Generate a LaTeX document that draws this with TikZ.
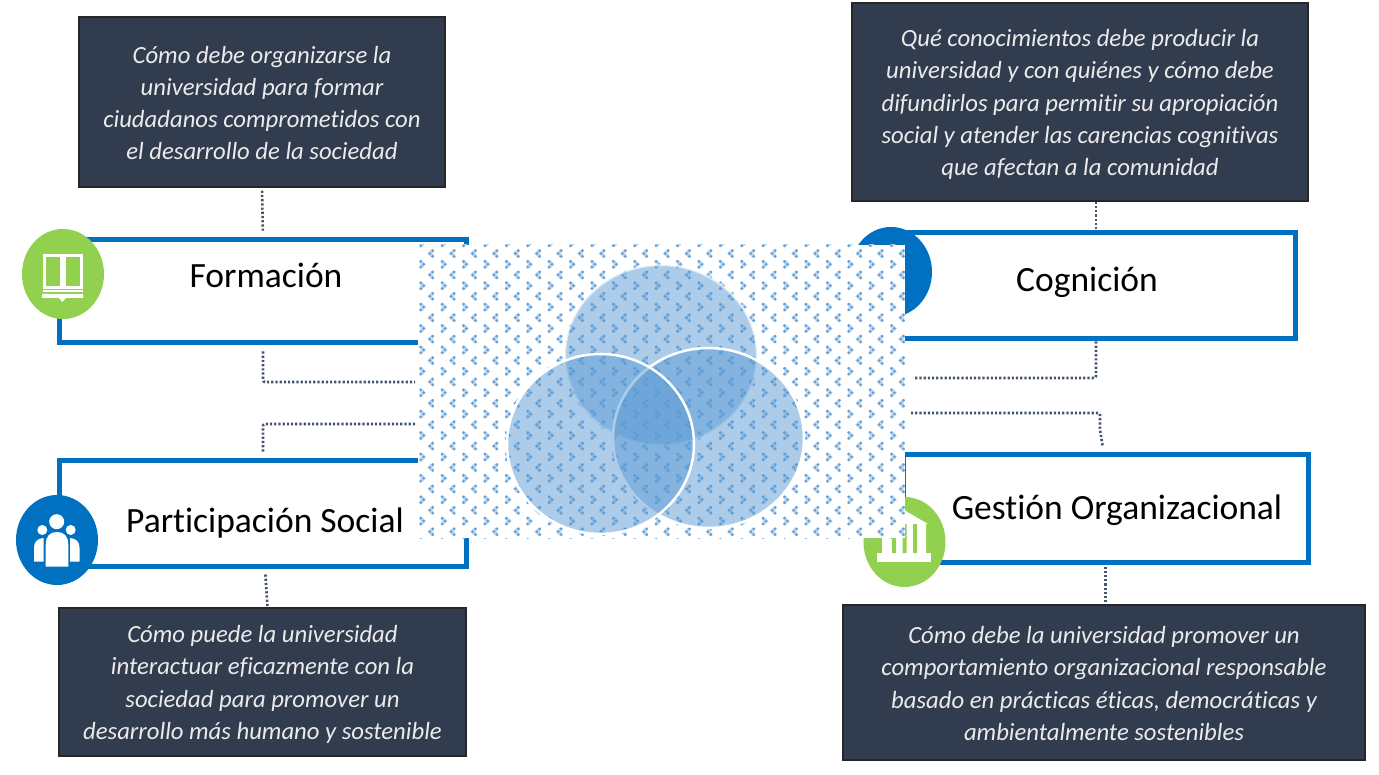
\documentclass[tikz,border=0pt]{standalone}
\usepackage{fontspec}
\setmainfont[Ligatures=NoCommon]{Carlito}
\definecolor{azul}{HTML}{0070C0}
\definecolor{verde}{HTML}{92D050}
\definecolor{pizarra}{HTML}{323C4F}
\definecolor{punteo}{HTML}{44546A}
\definecolor{circulo}{HTML}{5B9BD5}
\tikzset{
    caja/.style={draw=azul,line width=5pt,fill=white,inner sep=0pt},
    texto/.style={draw=black!85,line width=1.5pt,fill=pizarra,inner sep=0pt},
    letra/.style={text=white!92!black,inner sep=0pt,align=center,font=\fontsize{24.7}{32.3}\selectfont\itshape},
    titulo/.style={inner sep=0pt,font=\fontsize{35.5}{40}\selectfont},
    punteado/.style={draw=punteo,line width=2.6pt,dash pattern=on 2.2pt off 2pt,rounded corners=2pt},
    fondo/.style={fill=white,inner sep=0pt,minimum width=487pt,minimum height=293pt},
    punto/.style={fill=circulo!95!white},
    halo/.style={draw=circulo!40!white,line width=3.4pt,line cap=round},
    venn/.style={fill=circulo,fill opacity=.5,draw=white,line width=2.5pt}
}
\begin{document}
\begin{tikzpicture}[x=1pt,y=-1pt]
    \useasboundingbox (0,0) rectangle (1379,775);

    % cajas de las cuatro dimensiones
    \node [caja,minimum width=406.5pt,minimum height=103.5pt] (formacion) at (263,291.25) {};
    \node [caja,minimum width=406.5pt,minimum height=106pt] (participacion) at (263,513) {};
    \node [caja,minimum width=405pt,minimum height=106.5pt] (cognicion) at (1092.5,285.75) {};
    \node [caja,minimum width=405pt,minimum height=108pt] (gestion) at (1105.5,508) {};

    \node [titulo] (tFormacion) at (266,275) {Formación};
    \node [titulo] (tParticipacion) at (265,523.5) {Participación Social};
    \node [titulo] (tCognicion) at (1087,282) {Cognición};
    \node [titulo] (tGestion) at (1117,510.5) {Gestión Organizacional};

    % preguntas
    \node [texto,minimum width=366pt,minimum height=170pt] (pFormacion) at (262,102) {};
    \node [texto,minimum width=456pt,minimum height=198pt] (pCognicion) at (1080,102) {};
    \node [texto,minimum width=407pt,minimum height=148pt] (pParticipacion) at (262.5,682) {};
    \node [texto,minimum width=522pt,minimum height=155pt] (pGestion) at (1104,682.5) {};

    \node [letra] (lFormacion) at (262,103)
        {Cómo debe organizarse la\\universidad para formar\\ciudadanos comprometidos con\\el desarrollo de la sociedad};
    \node [letra] (lCognicion) at (1080,104.5)
        {Qué conocimientos debe producir la\\universidad y con quiénes y cómo debe\\difundirlos para permitir su apropiación\\social y atender las carencias cognitivas\\que afectan a la comunidad};
    \node [letra] (lParticipacion) at (262.5,684.5)
        {Cómo puede la universidad\\interactuar eficazmente con la\\sociedad para promover un\\desarrollo más humano y sostenible};
    \node [letra] (lGestion) at (1104,683.5)
        {Cómo debe la universidad promover un\\comportamiento organizacional responsable\\basado en prácticas éticas, democráticas y\\ambientalmente sostenibles};

    % conectores
    \coordinate (xCognicion) at (1096,0);
    \coordinate (eFormacion) at (415,382);
    \coordinate (eParticipacion) at (415,424);
    \coordinate (eCognicion) at (913,378);
    \coordinate (eGestion) at (911,413);
    \draw [punteado,shorten <=3pt,shorten >=5pt] (pFormacion.south) -- (formacion.north);
    \draw [punteado,shorten <=6pt] (formacion.south) |- (eFormacion);
    \draw [punteado,shorten >=5pt] (eParticipacion) -| (participacion.north);
    \draw [punteado,shorten <=6pt] ([xshift=2pt]participacion.south) -- ([xshift=5pt]pParticipacion.north);
    \draw [punteado] (pCognicion.south -| xCognicion) -- ([yshift=-4pt]cognicion.north -| xCognicion);
    \draw [punteado] (cognicion.south -| xCognicion) |- (eCognicion);
    \draw [punteado,shorten >=6pt] (eGestion) -- (1100,413) -- (1100,430) -- ([xshift=-2pt]gestion.north);
    \draw [punteado,shorten <=2pt] (gestion.south) -- (pGestion.north -| gestion.south);

    % iconos
    \fill [verde] (63,274) ellipse [x radius=41,y radius=45];
    \fill [azul] (57,540) ellipse [x radius=41,y radius=45];
    \fill [azul] (891,272) ellipse [x radius=41,y radius=45];
    \fill [verde] (904.5,542) ellipse [x radius=41,y radius=45];

    \begin{scope}[white]
        \draw [line width=3pt] (44,256) rectangle (61,288) (64,256) rectangle (81.5,288);
        \draw [line width=1.5pt] (43,291) -- (83,291);
        \fill (42,294) -- (83,294) -- (83,298) -- (66,298) -- (62.5,302) -- (59,298) -- (42,298) -- cycle;

        \fill (56.7,521.7) circle (7.5) (42.3,530) circle (5) (70.7,530) circle (5);
        \fill (45.7,566.7) -- (45.7,545) .. controls (45.7,536) and (50,532) .. (57,532)
            .. controls (64,532) and (68.3,536) .. (68.3,545) -- (68.3,566.7) -- cycle;
        \fill (34,561.7) -- (34,548) .. controls (34,542) and (37,538.5) .. (43.5,538) -- (43.5,561.7) -- cycle;
        \fill (79.5,561.7) -- (79.5,548) .. controls (79.5,542) and (76.5,538.5) .. (70,538) -- (70,561.7) -- cycle;

        \fill (877,553) rectangle (931,562);
        \fill (904,510) -- (928,524) -- (926,524) -- (926,553) -- (882,553) -- (882,524) -- (878,524) -- cycle;
        \fill [verde] (892,524) rectangle (896,553) (902.5,524) rectangle (906.5,553) (913,524) rectangle (917,553);
    \end{scope}

    % fondo con la trama
    \node [fondo] (centro) at (661.5,391.5) {};
    \begin{scope}
        \clip (418,245) rectangle (905,538);
        \foreach \i in {0,...,22}
            \foreach \j in {-1,...,13}{%
                \draw [halo] ({432.7+21.4*\i},{250.6+21.4*\j}) -- ({432.7+21.4*\i-2.9},{253.5+21.4*\j}) -- ({432.7+21.4*\i},{256.4+21.4*\j});
                \draw [halo] ({420.7+21.4*\i},{261.4+21.4*\j}) -- ({420.7+21.4*\i+2.9},{264.3+21.4*\j}) -- ({420.7+21.4*\i},{267.2+21.4*\j});
                \fill [punto] ({432.7+21.4*\i-2.9},{253.5+21.4*\j}) circle (1.5)
                    ({432.7+21.4*\i},{250.6+21.4*\j}) circle (1.5) ({432.7+21.4*\i},{256.4+21.4*\j}) circle (1.5);
                \fill [punto] ({420.7+21.4*\i+2.9},{264.3+21.4*\j}) circle (1.5)
                    ({420.7+21.4*\i},{261.4+21.4*\j}) circle (1.5) ({420.7+21.4*\i},{267.2+21.4*\j}) circle (1.5);}
    \end{scope}

    \draw [venn,draw opacity=.6] (661,355) ellipse [x radius=96,y radius=90];
    \draw [venn] (708.5,438) ellipse [x radius=95.5,y radius=90];
    \draw [venn] (600.5,444) ellipse [x radius=93.5,y radius=90];
\end{tikzpicture}
\end{document}
